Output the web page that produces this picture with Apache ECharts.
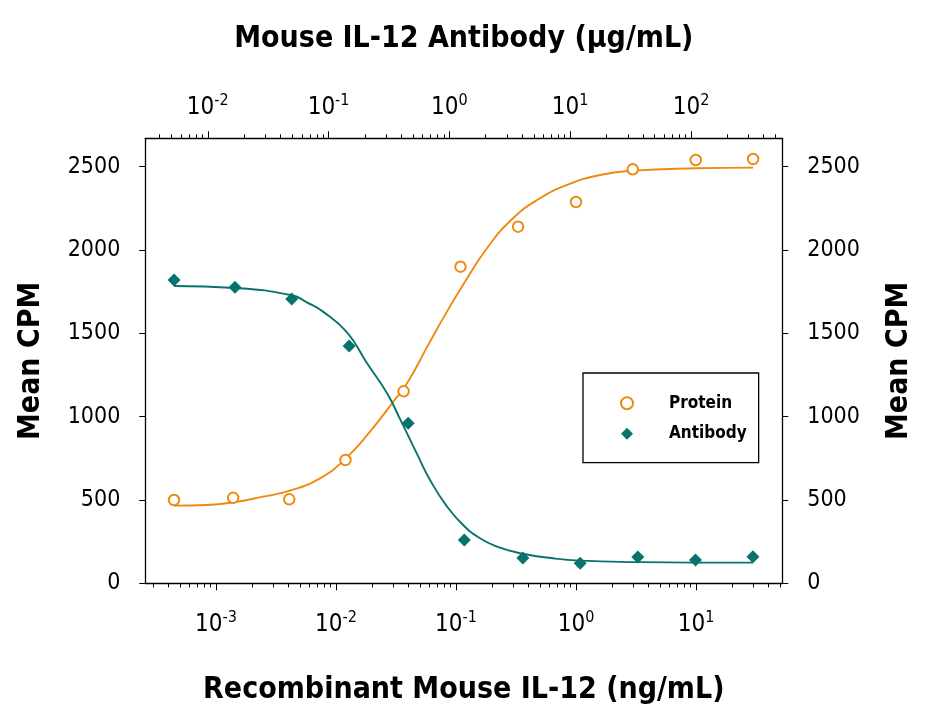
<!DOCTYPE html>
<html>
<head>
<meta charset="utf-8">
<script src="https://cdn.jsdelivr.net/npm/echarts@6/dist/echarts.min.js"></script>
<style>
html,body{margin:0;padding:0;background:#fff;}
#chart{width:927px;height:717px;}
</style>
</head>
<body>
<div id="chart"></div>
<script>
// ---- Data ----
// Recombinant Mouse IL-12 (ng/mL, bottom axis)
const proteinX = [0.000447, 0.00139, 0.00408, 0.0120, 0.0366, 0.109, 0.329, 1.00, 2.97, 9.95, 29.9];
const proteinY = [500, 513, 504, 740, 1152, 1900, 2140, 2288, 2484, 2540, 2546];
// Mouse IL-12 Antibody (ug/mL, top axis)
const antibodyX = [0.00526, 0.0168, 0.0496, 0.148, 0.456, 1.33, 4.06, 12.1, 36.3, 109, 326];
const antibodyY = [1820, 1776, 1706, 1424, 960, 260, 152, 120, 158, 140, 160];
// fitted curves
const proteinFitX = [0.000447, 0.000841, 0.001386, 0.002466, 0.004055, 0.007356, 0.01189, 0.0192, 0.02929, 0.03908, 0.0607, 0.0841, 0.1144, 0.1811, 0.2985, 0.501, 0.841, 1.585, 2.985, 10.0, 29.85];
const proteinFitY = [466, 470, 486, 520, 554, 630, 745, 910, 1080, 1200, 1450, 1630, 1790, 2010, 2190, 2310, 2390, 2450, 2476, 2490, 2494];
const antibodyFitX = [0.00526, 0.0168, 0.0499, 0.0661, 0.0900, 0.1422, 0.2083, 0.305, 0.391, 0.541, 0.692, 0.957, 1.298, 1.794, 2.48, 3.85, 7.21, 12.08, 36.5, 108, 326];
const antibodyFitY = [1784, 1772, 1728, 1686, 1630, 1505, 1320, 1140, 985, 775, 620, 460, 350, 270, 220, 180, 150, 136, 127, 124, 124];
// tick labels
const bottomMajor = [0.001, 0.01, 0.1, 1, 10];
const topMajor = [0.01, 0.1, 1, 10, 100];
const yTicks = [0, 500, 1000, 1500, 2000, 2500];
const seriesNames = ['Protein', 'Antibody'];

// ---- styling ----
const FONT = "'Liberation Sans Narrow', 'DejaVu Sans Condensed', 'Arial Narrow', sans-serif";
const ORANGE = '#EE8A12';
const TEAL = '#08736C';
const bottomRange = [0.0002576, 52.36];
const topRange = [0.003041, 570.2];

function minorTicks(range) {
  const out = [];
  for (let d = -5; d <= 3; d++) {
    for (let k = 2; k <= 9; k++) {
      const v = k * Math.pow(10, d);
      if (v > range[0] && v < range[1]) out.push(v);
    }
  }
  return out;
}
function powLabel(v) {
  const e = Math.round(Math.log10(v));
  return '10{sup|' + e + '}';
}
const logLabelStyle = {
  fontFamily: FONT, fontSize: 24, color: '#000', lineHeight: 28,
  formatter: powLabel,
  rich: { sup: { fontFamily: FONT, fontSize: 16, lineHeight: 17, verticalAlign: 'top', color: '#000' } }
};
const axisLine = { show: true, lineStyle: { color: '#000', width: 1.3 } };
const nameStyle = { fontFamily: FONT, fontSize: 30, fontWeight: 'bold', color: '#000' };
const yLabel = { customValues: yTicks, fontFamily: FONT, fontSize: 23, color: '#000', margin: 25, formatter: v => String(v) };

const chart = echarts.init(document.getElementById('chart'), null, { renderer: 'canvas' });
chart.setOption({
  backgroundColor: '#fff',
  animation: false,
  grid: { left: 145.3, right: 144.7, top: 138.3, bottom: 133.7, containLabel: false },
  legend: {
    data: seriesNames,
    orient: 'vertical',
    left: 583, top: 373,
    padding: [21.2, 12, 19.9, 37],
    itemWidth: 12, itemHeight: 12, itemGap: 12.6,
    borderColor: '#000', borderWidth: 1.3,
    textStyle: { fontFamily: FONT, fontSize: 17, fontWeight: 'bold', color: '#000', lineHeight: 18, padding: [0, 0, 0, 31] }
  },
  xAxis: [
    {
      type: 'log', position: 'bottom', min: bottomRange[0], max: bottomRange[1],
      axisLine: axisLine,
      axisTick: { show: true, customValues: bottomMajor, length: 7, inside: false, lineStyle: { color: '#000', width: 1 } },
      axisLabel: Object.assign({ customValues: bottomMajor, margin: 27 }, logLabelStyle),
      splitLine: { show: false },
      name: 'Recombinant Mouse IL-12 (ng/mL)', nameLocation: 'middle', nameGap: 92, nameTextStyle: nameStyle
    },
    {
      type: 'log', position: 'bottom', min: bottomRange[0], max: bottomRange[1],
      axisLine: { show: false },
      axisTick: { show: true, customValues: minorTicks(bottomRange), length: 4, lineStyle: { color: '#000', width: 1 } },
      axisLabel: { show: false }, splitLine: { show: false }
    },
    {
      type: 'log', position: 'top', min: topRange[0], max: topRange[1],
      axisLine: axisLine,
      axisTick: { show: true, customValues: topMajor, length: 7, lineStyle: { color: '#000', width: 1 } },
      axisLabel: Object.assign({ customValues: topMajor, margin: 17 }, logLabelStyle),
      splitLine: { show: false },
      name: 'Mouse IL-12 Antibody (\u03bcg/mL)', nameLocation: 'middle', nameGap: 84, nameTextStyle: nameStyle
    },
    {
      type: 'log', position: 'top', min: topRange[0], max: topRange[1],
      axisLine: { show: false },
      axisTick: { show: true, customValues: minorTicks(topRange), length: 4, lineStyle: { color: '#000', width: 1 } },
      axisLabel: { show: false }, splitLine: { show: false }
    }
  ],
  yAxis: [
    {
      type: 'value', position: 'left', min: 0, max: 2670, interval: 500,
      axisLine: axisLine,
      axisTick: { show: true, customValues: yTicks, length: 6, lineStyle: { color: '#000', width: 1 } },
      axisLabel: yLabel,
      splitLine: { show: false },
      name: 'Mean CPM', nameLocation: 'middle', nameGap: 99, nameTextStyle: nameStyle
    },
    {
      type: 'value', position: 'right', min: 0, max: 2670, interval: 500,
      axisLine: axisLine,
      axisTick: { show: true, customValues: yTicks, length: 6, lineStyle: { color: '#000', width: 1 } },
      axisLabel: yLabel,
      splitLine: { show: false },
      name: 'Mean CPM', nameLocation: 'middle', nameGap: 102, nameTextStyle: nameStyle
    }
  ],
  series: [
    {
      name: 'Protein fit', type: 'line', xAxisIndex: 0, yAxisIndex: 0,
      data: proteinFitX.map((x, i) => [x, proteinFitY[i]]),
      showSymbol: false, symbol: 'none', smooth: 0.5,
      lineStyle: { color: ORANGE, width: 1.9 }, z: 2, silent: true
    },
    {
      name: 'Antibody fit', type: 'line', xAxisIndex: 2, yAxisIndex: 0,
      data: antibodyFitX.map((x, i) => [x, antibodyFitY[i]]),
      showSymbol: false, symbol: 'none', smooth: 0.5,
      lineStyle: { color: TEAL, width: 1.9 }, z: 2, silent: true
    },
    {
      name: seriesNames[0], type: 'scatter', xAxisIndex: 0, yAxisIndex: 0,
      data: proteinX.map((x, i) => [x, proteinY[i]]),
      symbol: 'emptyCircle', symbolSize: 10.5,
      itemStyle: { color: ORANGE, borderColor: ORANGE, borderWidth: 1.1, opacity: 1 }, z: 3
    },
    {
      name: seriesNames[1], type: 'scatter', xAxisIndex: 2, yAxisIndex: 0,
      data: antibodyX.map((x, i) => [x, antibodyY[i]]),
      symbol: 'diamond', symbolSize: 13,
      itemStyle: { color: TEAL, opacity: 1 }, z: 3
    }
  ]
});
</script>
</body>
</html>
